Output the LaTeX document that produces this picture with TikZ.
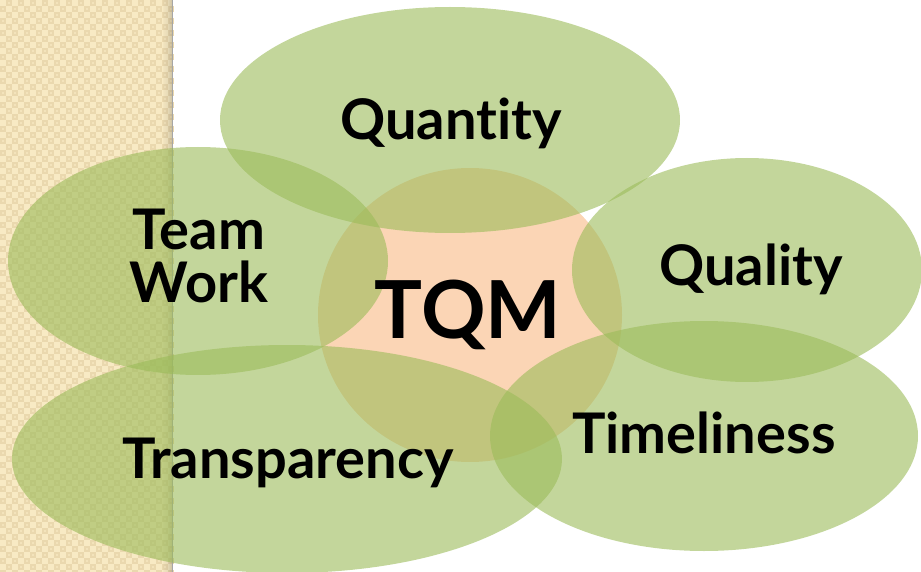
\documentclass[tikz,border=0pt]{standalone}
\usepackage{fontspec}
\setmainfont{Lato}[Ligatures=NoCommon]
\definecolor{stripbg}{HTML}{F8EAC4}
\definecolor{stripdk}{HTML}{EAD8AE}
\definecolor{stripin}{HTML}{F3E3BB}
\definecolor{peach}{HTML}{FBD5B5}
\definecolor{leaf}{HTML}{9BBB59}
\tikzset{
  petal/.style={fill=leaf, fill opacity=0.6, draw=none},
  lbl/.style={font=\fontsize{56}{60}\selectfont\bfseries, anchor=base, text=black, inner sep=0pt, align=center},
}
\begin{document}
\begin{tikzpicture}[x=1pt,y=-1pt]
\useasboundingbox (0,0) rectangle (921,572);
% left patterned strip
\fill[stripbg] (0,0) rectangle (172,572);
\foreach \i in {0,...,28}{
  \foreach \j in {0,...,95}{
    \pgfmathtruncatemacro{\odd}{mod(\i+\j,2)}
    \ifnum\odd=1
      \fill[stripdk] (\i*6,\j*6) rectangle ++(6,6);
      \fill[stripin] (\i*6+2,\j*6+2) rectangle ++(2,2);
    \fi
  }
}
\foreach \k/\o in {0/0.02,1/0.03,2/0.04,3/0.05,4/0.06,5/0.08,6/0.10,7/0.12,8/0.14}{
  \fill[black, opacity=\o] (163+\k,0) rectangle ++(1,572);
}
\fill[black!35] (171.5,0) rectangle (172.5,572);
% centre circle
\fill[peach] (470,315) ellipse [x radius=152, y radius=147];
% petals
\fill[petal] (450,120) ellipse [x radius=230, y radius=113];
\fill[petal] (198,261) ellipse [x radius=190, y radius=114];
\fill[petal] (747,270) ellipse [x radius=175, y radius=112];
\fill[petal] (704,436) ellipse [x radius=214, y radius=115];
\fill[petal] (287,459) ellipse [x radius=275, y radius=114];
% labels
\node[lbl] (quantity) at (451,140) {Quantity};
\node[lbl] (team) at (199,249) {Team};
\node[lbl] (work) at (199,302) {Work};
\node[lbl] (quality) at (751,285) {Quality};
\node[lbl, font=\fontsize{80}{84}\selectfont\bfseries] (tqm) at (468,338) {TQM};
\node[lbl] (timeliness) at (704,453) {Timeliness};
\node[lbl] (transparency) at (288,478) {Transparency};
\end{tikzpicture}
\end{document}
